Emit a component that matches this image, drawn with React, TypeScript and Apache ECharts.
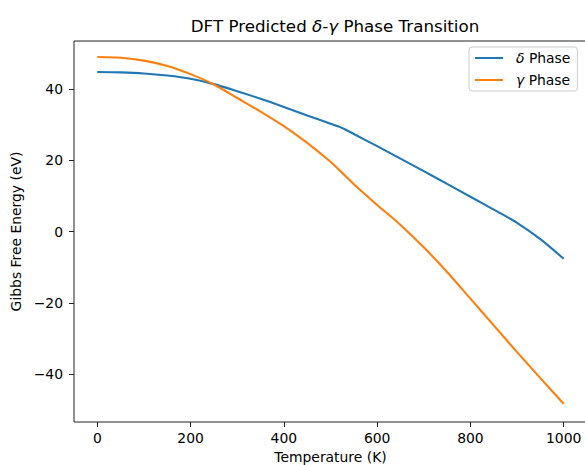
import React, { useEffect, useRef } from "react";
import * as echarts from "echarts";

const temperatures = [0, 50, 100, 150, 200, 250, 300, 350, 400, 450, 500, 525, 550, 600, 650, 700, 750, 800, 850, 900, 950, 1000];
const deltaPhase = [44.8, 44.7, 44.4, 43.8, 42.9, 41.4, 39.4, 37.3, 35.0, 32.6, 30.3, 29.1, 27.4, 24.0, 20.5, 17.0, 13.4, 9.8, 6.2, 2.5, -2.1, -7.6];
const gammaPhase = [49.0, 48.8, 48.0, 46.5, 44.2, 41.3, 37.5, 33.7, 29.6, 24.9, 19.6, 16.5, 13.3, 7.5, 1.9, -4.4, -11.3, -18.8, -26.3, -33.8, -41.1, -48.3];
const xTicks = [0, 200, 400, 600, 800, 1000];
const yTicks = [-40, -20, 0, 20, 40];

const FONT = "DejaVu Sans";

export default function App() {
  const ref = useRef<HTMLDivElement>(null);
  useEffect(() => {
    document.body.style.margin = "0";
    const chart = echarts.init(ref.current!, null, { renderer: "svg" });
    const toPairs = (ys: number[]) => temperatures.map((t, i) => [t, ys[i]]);
    chart.setOption({
      animation: false,
      backgroundColor: "#ffffff",
      title: {
        text: "{n|DFT Predicted }{i|δ}{n|-}{i|γ}{n| Phase Transition}",
        left: 330,
        top: 12,
        textAlign: "center",
        textStyle: {
          rich: {
            n: { fontFamily: FONT, fontSize: 16.7, color: "#000", fontWeight: "normal" },
            i: { fontFamily: FONT, fontSize: 16.7, color: "#000", fontStyle: "italic", fontWeight: "normal" },
          },
        },
      },
      legend: {
        orient: "vertical",
        left: 469,
        top: 47,
        padding: [4, 7, 4, 6],
        itemWidth: 28,
        itemHeight: 2,
        itemGap: 8,
        icon: "rect",
        backgroundColor: "rgba(255,255,255,0.8)",
        borderColor: "#cccccc",
        borderWidth: 1,
        borderRadius: 3,
        formatter: (name: string) => (name.startsWith("δ") ? "{i|δ}{n| Phase}" : "{i|γ}{n| Phase}"),
        textStyle: {
          padding: [0, 0, 0, 8],
          rich: {
            n: { fontFamily: FONT, fontSize: 13.9, color: "#000", height: 16 },
            i: { fontFamily: FONT, fontSize: 13.9, color: "#000", fontStyle: "italic", height: 16 },
          },
        },
      },
      grid: {
        left: 74,
        top: 41,
        width: 513,
        height: 381,
        show: true,
        borderColor: "#222",
        borderWidth: 1,
        backgroundColor: "transparent",
        containLabel: false,
        outerBoundsMode: "none",
      },
      xAxis: {
        type: "value",
        min: -50,
        max: 1050,
        name: "Temperature (K)",
        nameLocation: "middle",
        nameGap: 28,
        nameTextStyle: { fontFamily: FONT, fontSize: 13.9, color: "#000" },
        axisLine: { show: false, onZero: false },
        axisTick: { show: true, length: 5, customValues: xTicks, lineStyle: { color: "#222", width: 1 } },
        axisLabel: {
          customValues: xTicks,
          margin: 9,
          fontFamily: FONT,
          fontSize: 13.9,
          color: "#000",
          formatter: (v: number) => String(v),
        },
        splitLine: { show: false },
      },
      yAxis: {
        type: "value",
        min: -53.4,
        max: 53.5,
        name: "Gibbs Free Energy (eV)",
        nameLocation: "middle",
        nameGap: 47,
        nameTextStyle: { fontFamily: FONT, fontSize: 13.9, color: "#000" },
        axisLine: { show: false, onZero: false },
        axisTick: { show: true, length: 5, customValues: yTicks, lineStyle: { color: "#222", width: 1 } },
        axisLabel: {
          customValues: yTicks,
          margin: 11,
          fontFamily: FONT,
          fontSize: 13.9,
          color: "#000",
          formatter: (v: number) => (v < 0 ? "\u2212" + Math.abs(v) : String(v)),
        },
        splitLine: { show: false },
      },
      series: [
        {
          name: "δ Phase",
          type: "line",
          data: toPairs(deltaPhase),
          showSymbol: false,
          smooth: 0.25,
          color: "#1f77b4",
          lineStyle: { width: 2.1, color: "#1f77b4" },
        },
        {
          name: "γ Phase",
          type: "line",
          data: toPairs(gammaPhase),
          showSymbol: false,
          smooth: 0.25,
          color: "#ff7f0e",
          lineStyle: { width: 2.1, color: "#ff7f0e" },
        },
      ],
    });
    return () => chart.dispose();
  }, []);
  return <div ref={ref} style={{ width: 585, height: 465 }} />;
}
